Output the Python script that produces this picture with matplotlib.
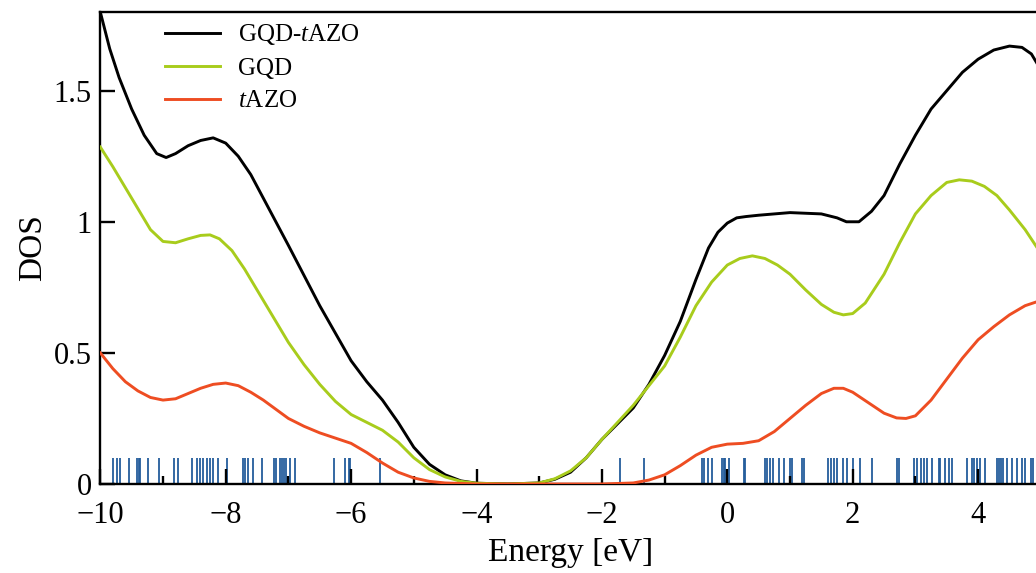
import matplotlib.pyplot as plt

plt.rcParams['font.family'] = ['Liberation Serif', 'DejaVu Serif']
plt.rcParams['mathtext.fontset'] = 'custom'
plt.rcParams['mathtext.rm'] = 'Liberation Serif'
plt.rcParams['mathtext.it'] = 'Liberation Serif:italic'

# DOS curves
energy_total = [-10, -9.85, -9.7, -9.5, -9.3, -9.1, -8.95, -8.8, -8.6, -8.4, -8.2, -8.0, -7.8,
                -7.6, -7.4, -7.2, -7.0, -6.75, -6.5, -6.25, -6, -5.75, -5.5, -5.25, -5, -4.75,
                -4.5, -4.25, -4, -3.5, -3, -2.75, -2.5, -2.25, -2, -1.75, -1.5, -1.25, -1,
                -0.75, -0.5, -0.3, -0.15, 0, 0.15, 0.3, 0.5, 1, 1.5, 1.75, 1.9, 2.1, 2.3,
                2.5, 2.75, 3, 3.25, 3.5, 3.75, 4, 4.25, 4.5, 4.7, 4.85, 5]
dos_total = [1.80, 1.66, 1.55, 1.43, 1.33, 1.26, 1.245, 1.26, 1.29, 1.31, 1.32, 1.30, 1.25,
             1.18, 1.09, 1.00, 0.91, 0.795, 0.68, 0.575, 0.47, 0.39, 0.32, 0.235, 0.14, 0.075,
             0.035, 0.012, 0.003, 0.0, 0.004, 0.018, 0.045, 0.10, 0.17, 0.23, 0.29, 0.38, 0.49,
             0.62, 0.78, 0.90, 0.96, 0.995, 1.015, 1.02, 1.025, 1.035, 1.03, 1.015, 1.0, 1.0, 1.04,
             1.10, 1.22, 1.33, 1.43, 1.50, 1.57, 1.62, 1.655, 1.67, 1.665, 1.64, 1.58]

energy_gqd = [-10, -9.8, -9.6, -9.4, -9.2, -9, -8.8, -8.6, -8.4, -8.25, -8.1, -7.9, -7.7,
              -7.5, -7.25, -7, -6.75, -6.5, -6.25, -6, -5.75, -5.5, -5.25, -5, -4.75, -4.5,
              -4.25, -4, -3.5, -3, -2.75, -2.5, -2.25, -2, -1.5, -1, -0.75, -0.5, -0.25, 0,
              0.2, 0.4, 0.6, 0.8, 1, 1.25, 1.5, 1.7, 1.85, 2.0, 2.2, 2.5, 2.75, 3, 3.25, 3.5,
              3.7, 3.9, 4.1, 4.3, 4.5, 4.75, 5]
dos_gqd = [1.285, 1.21, 1.13, 1.05, 0.97, 0.925, 0.92, 0.935, 0.948, 0.95, 0.935, 0.89, 0.82,
           0.74, 0.64, 0.54, 0.455, 0.38, 0.315, 0.265, 0.235, 0.205, 0.16, 0.10, 0.055, 0.027,
           0.01, 0.003, 0.0, 0.004, 0.02, 0.05, 0.10, 0.17, 0.30, 0.45, 0.56, 0.68, 0.77, 0.835,
           0.86, 0.87, 0.86, 0.835, 0.80, 0.74, 0.685, 0.655, 0.645, 0.65, 0.69, 0.80, 0.92, 1.03,
           1.10, 1.15, 1.16, 1.155, 1.135, 1.10, 1.045, 0.97, 0.88]

energy_tazo = [-10, -9.8, -9.6, -9.4, -9.2, -9, -8.8, -8.6, -8.4, -8.2, -8, -7.8, -7.6, -7.4,
               -7.2, -7, -6.75, -6.5, -6.25, -6, -5.75, -5.5, -5.25, -5, -4.75, -4.5, -4, -3,
               -2, -1.5, -1.25, -1, -0.75, -0.5, -0.25, 0, 0.25, 0.5, 0.75, 1, 1.25, 1.5, 1.7,
               1.85, 2, 2.25, 2.5, 2.7, 2.85, 3, 3.25, 3.5, 3.75, 4, 4.25, 4.5, 4.75, 5]
dos_tazo = [0.50, 0.44, 0.39, 0.355, 0.33, 0.32, 0.325, 0.345, 0.365, 0.38, 0.385, 0.375, 0.35, 0.32,
            0.285, 0.25, 0.22, 0.195, 0.175, 0.155, 0.12, 0.08, 0.045, 0.023, 0.01, 0.004, 0.0, 0.0,
            0.0, 0.004, 0.015, 0.035, 0.07, 0.11, 0.14, 0.152, 0.155, 0.165, 0.2, 0.25, 0.30, 0.345, 0.365,
            0.365, 0.35, 0.31, 0.27, 0.252, 0.25, 0.26, 0.32, 0.40, 0.48, 0.55, 0.60, 0.645, 0.68, 0.70]

# eigenvalue sticks along the bottom
levels = [-9.79, -9.74, -9.69, -9.55, -9.42, -9.39, -9.36, -9.24, -9.07, -8.82, -8.76,
          -8.53, -8.46, -8.41, -8.36, -8.30, -8.25, -8.20, -8.12, -7.98, -7.72, -7.69,
          -7.64, -7.56, -7.42, -7.23, -7.20, -7.13, -7.10, -7.07, -7.04, -6.97, -6.89,
          -6.28, -6.09, -6.04, -6.02, -5.54, -1.71, -1.33,
          -0.40, -0.37, -0.31, -0.24, -0.09, -0.06, -0.03, 0.03, 0.26, 0.29, 0.60, 0.64,
          0.68, 0.73, 0.83, 0.90, 1.00, 1.03, 1.19, 1.22, 1.61, 1.65, 1.70, 1.75, 1.85,
          1.91, 2.00, 2.12, 2.30, 2.71, 2.74, 2.97, 3.02, 3.09, 3.13, 3.18, 3.26, 3.37,
          3.39, 3.48, 3.53, 3.58, 3.82, 3.90, 3.94, 3.98, 4.03, 4.11, 4.30, 4.33, 4.37,
          4.40, 4.46, 4.54, 4.62, 4.70, 4.75, 4.84, 4.88]

fig = plt.figure(figsize=(10.36, 5.73), dpi=100)
ax = fig.add_axes([100.3 / 1036, 89 / 573, 940.5 / 1036, 472 / 573])

ax.vlines(levels, 0, 0.1, color='#245d9c', linewidth=1.3, zorder=1)
ax.plot(energy_total, dos_total, color='black', linewidth=2.1, label='GQD-$t$AZO', zorder=3)
ax.plot(energy_gqd, dos_gqd, color='#a8cc1c', linewidth=2.1, label='GQD', zorder=3)
ax.plot(energy_tazo, dos_tazo, color='#ee4d22', linewidth=2.1, label='$t$AZO', zorder=3)

ax.set_xlim(-10, 5)
ax.set_ylim(0, 1.8)
ax.set_xticks([-10, -8, -6, -4, -2, 0, 2, 4])
ax.set_xticks(range(-10, 6), minor=True)
ax.set_yticks([0, 0.5, 1, 1.5])
ax.set_yticklabels(['0', '0.5', '1', '1.5'])
ax.tick_params(direction='in', which='major', length=11, width=1.7, labelsize=22, pad=6)
ax.tick_params(axis='x', which='major', pad=12)
ax.tick_params(direction='in', which='minor', length=5.5, width=1.7)
ax.tick_params(axis='y', which='minor', left=False)
for s in ax.spines.values():
    s.set_linewidth(1.7)

ax.set_xlabel('Energy [eV]', fontsize=24, labelpad=6)
ax.set_ylabel('DOS', fontsize=24, labelpad=4)

ax.legend(loc='upper left', bbox_to_anchor=(0.069, 0.978), frameon=False, fontsize=18,
          borderpad=0, borderaxespad=0, handlelength=2.2, handletextpad=0.7, labelspacing=0.4)

fig.savefig('out.png', dpi=100)
